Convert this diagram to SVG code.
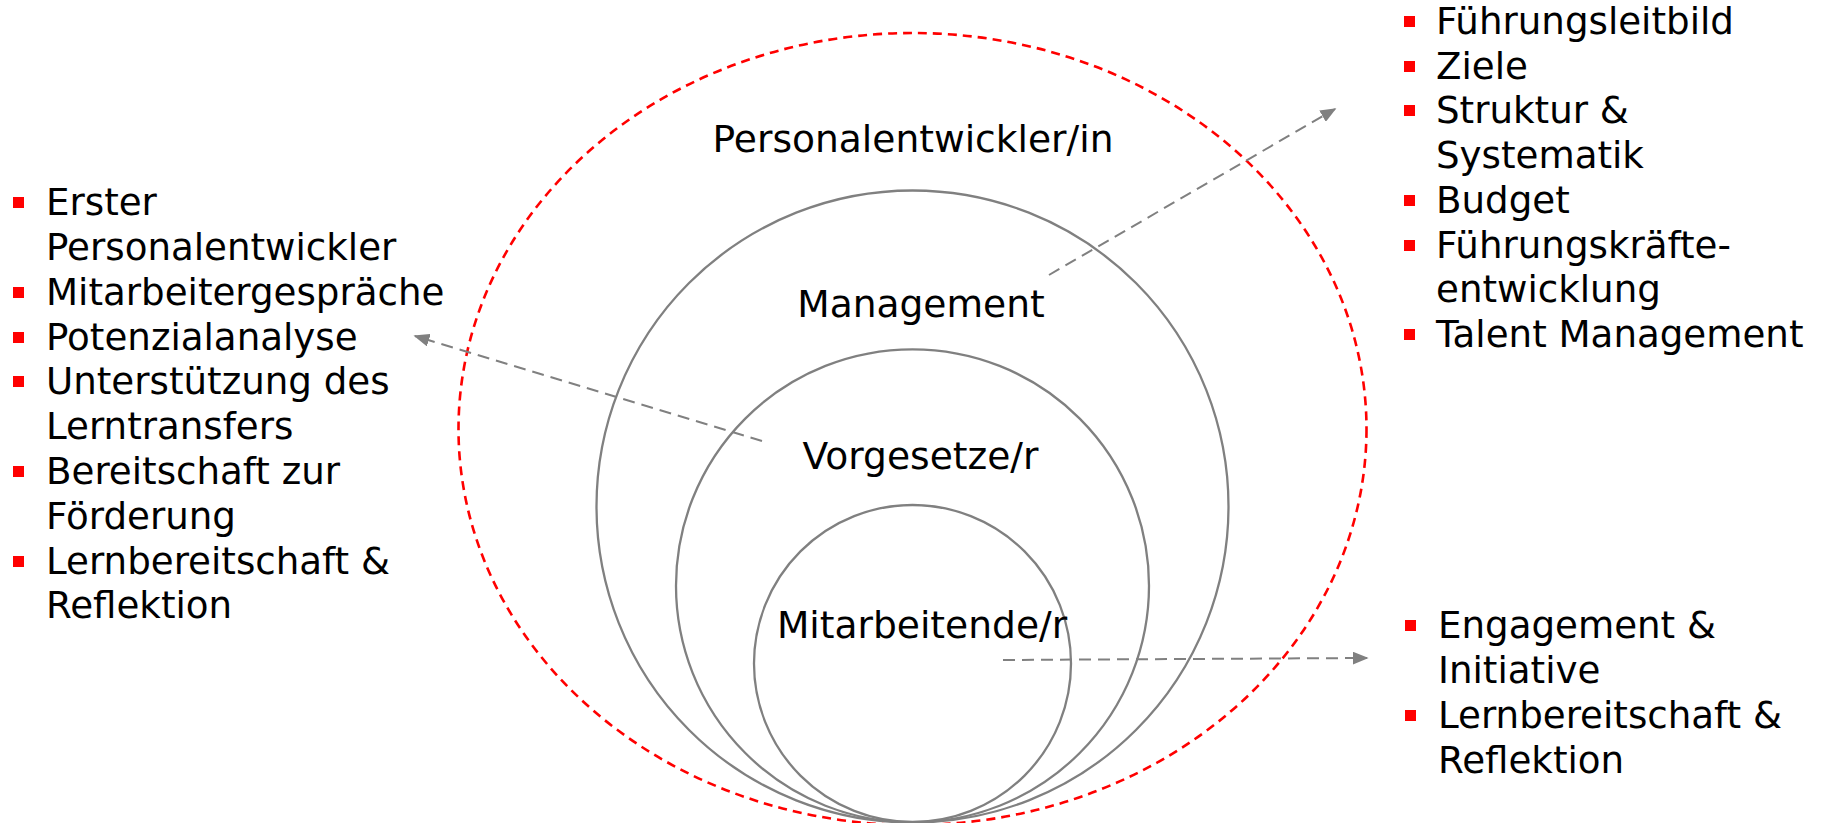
<svg xmlns="http://www.w3.org/2000/svg" width="1825" height="823" viewBox="0 0 1825 823">
<style>
text{font-family:"DejaVu Sans",Verdana,"Noto Sans",sans-serif;font-size:37.2px;fill:#000}
.lbl{text-anchor:middle;font-size:37.6px}
.ring{fill:none;stroke:#808080;stroke-width:2.3}
.outer{fill:none;stroke:#ff0000;stroke-width:2.6;stroke-dasharray:9 6}
.conn{fill:none;stroke:#808080;stroke-width:2;stroke-dasharray:12 7}
.b{fill:#ff0000}
</style>
<defs>
<marker id="ah2" viewBox="0 0 10 10" refX="9" refY="5" markerWidth="16" markerHeight="13" markerUnits="userSpaceOnUse" orient="auto" preserveAspectRatio="none">
<path d="M0,0 L10,5 L0,10 Z" fill="#808080"/>
</marker>
</defs>
<g id="personalentwickler">
<ellipse class="outer" cx="912.5" cy="429" rx="454" ry="396"/>
<text class="lbl" x="913" y="152">Personalentwickler/in</text>
</g>
<g id="management">
<circle class="ring" cx="912.5" cy="506.5" r="316"/>
<text class="lbl" x="921" y="317">Management</text>
</g>
<g id="vorgesetze">
<circle class="ring" cx="912.5" cy="585.8" r="236.5"/>
<text class="lbl" x="920.5" y="469">Vorgesetze/r</text>
</g>
<g id="mitarbeitende">
<circle class="ring" cx="912.5" cy="663.5" r="158.5"/>
<text class="lbl" x="922" y="638">Mitarbeitende/r</text>
</g>
<g id="list-left">
<rect class="b" x="13" y="197" width="11" height="11"/>
<text x="46" y="215">Erster</text>
<text x="46" y="260">Personalentwickler</text>
<rect class="b" x="13" y="287" width="11" height="11"/>
<text x="46" y="305">Mitarbeitergespräche</text>
<rect class="b" x="13" y="332" width="11" height="11"/>
<text x="46" y="350">Potenzialanalyse</text>
<rect class="b" x="13" y="376" width="11" height="11"/>
<text x="46" y="394">Unterstützung des</text>
<text x="46" y="439">Lerntransfers</text>
<rect class="b" x="13" y="466" width="11" height="11"/>
<text x="46" y="484">Bereitschaft zur</text>
<text x="46" y="529">Förderung</text>
<rect class="b" x="13" y="556" width="11" height="11"/>
<text x="46" y="574">Lernbereitschaft &amp;</text>
<text x="46" y="618">Reflektion</text>
</g>
<g id="list-right-top">
<rect class="b" x="1404" y="16" width="11" height="11"/>
<text x="1436" y="34">Führungsleitbild</text>
<rect class="b" x="1404" y="61" width="11" height="11"/>
<text x="1436" y="79">Ziele</text>
<rect class="b" x="1404" y="105" width="11" height="11"/>
<text x="1436" y="123">Struktur &amp;</text>
<text x="1436" y="168">Systematik</text>
<rect class="b" x="1404" y="195" width="11" height="11"/>
<text x="1436" y="213">Budget</text>
<rect class="b" x="1404" y="240" width="11" height="11"/>
<text x="1436" y="258">Führungskräfte-</text>
<text x="1436" y="302">entwicklung</text>
<rect class="b" x="1404" y="329" width="11" height="11"/>
<text x="1436" y="347">Talent Management</text>
</g>
<g id="list-right-bottom">
<rect class="b" x="1405" y="620" width="11" height="11"/>
<text x="1438" y="638">Engagement &amp;</text>
<text x="1438" y="683">Initiative</text>
<rect class="b" x="1405" y="710" width="11" height="11"/>
<text x="1438" y="728">Lernbereitschaft &amp;</text>
<text x="1438" y="773">Reflektion</text>
</g>
<g id="connectors">
<line class="conn" x1="1049" y1="275" x2="1335" y2="109" marker-end="url(#ah2)"/>
<line class="conn" x1="762" y1="441" x2="415" y2="336" marker-end="url(#ah2)"/>
<line class="conn" x1="1003" y1="660" x2="1367" y2="658" marker-end="url(#ah2)"/>
</g>
</svg>
